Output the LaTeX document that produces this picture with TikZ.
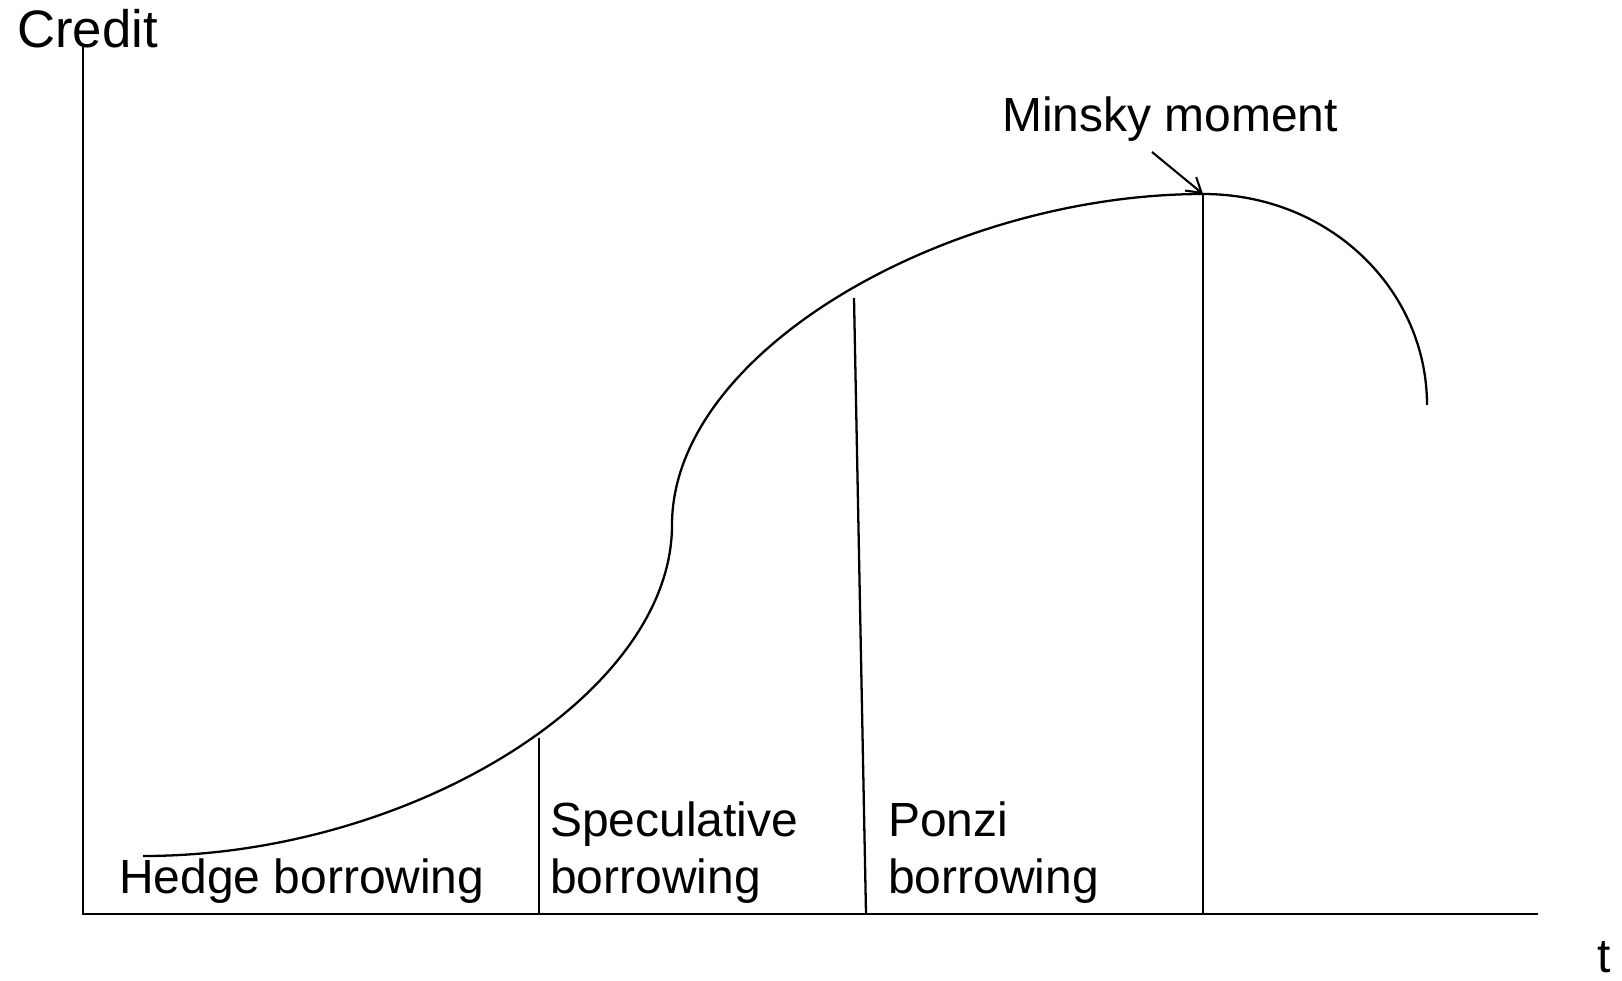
\documentclass[tikz,border=0pt]{standalone}
\usepackage{fontspec}
\setmainfont{Liberation Sans}
\usetikzlibrary{positioning, arrows.meta}

\begin{document}
\begin{tikzpicture}[
    x=0.02cm, y=-0.02cm,
    line width=1.3pt,
    lbl/.style={inner sep=0pt, anchor=base west, align=left,
                font=\fontsize{27.3}{32}\selectfont},
    arrow/.style={-{Straight Barb[length=8pt, width=10pt]}},
  ]
  \useasboundingbox (0,0) rectangle (1622,980);
  % axes
  \coordinate (origin) at (83,914);
  \coordinate (ytop) at (83,47);
  \coordinate (xend) at (1538,914);
  \draw (ytop) -- (origin) -- (xend);
  \node[lbl, font=\fontsize{30}{34}\selectfont] (credit) at (16,48) {Credit};
  \node[lbl] (time) at (1596,972) {t};
  % credit curve
  \coordinate (start) at (143,856);
  \coordinate (turn) at (672,525);
  \coordinate (peak) at (1203,194);
  \coordinate (stop) at (1427,405);
  \draw (start) .. controls (410,856) and (672,695) .. (turn)
                .. controls (672,350) and (950,194) .. (peak)
                .. controls (1330,194) and (1427,290) .. (stop);
  % phase borders
  \coordinate (spec) at (539,738);
  \coordinate (ponzi) at (854,298);
  \draw (spec) -- (spec |- origin);
  \draw (ponzi) -- (866,914);
  \draw (peak) -- (peak |- origin);
  % phase labels
  \node[lbl] (hedge) at (118,893) {Hedge borrowing};
  \node[lbl] (speclbl) at (549,893) {Speculative\\borrowing};
  \node[lbl] (ponzilbl) at (887,893) {Ponzi\\borrowing};
  % Minsky moment
  \node[lbl] (minsky) at (1001,132) {Minsky moment};
  \draw[arrow, line width=1.2pt] (1152,152) -- (peak);
\end{tikzpicture}
\end{document}
